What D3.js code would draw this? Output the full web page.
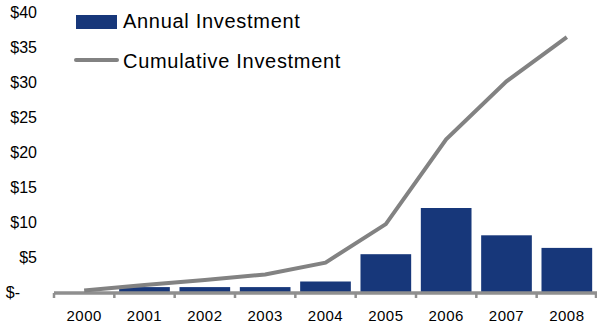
<!DOCTYPE html>
<html>
<head>
<meta charset="utf-8">
<script src="https://cdn.jsdelivr.net/npm/d3@7/dist/d3.min.js"></script>
<style>
  body { margin: 0; background: #fff; }
  text { font-family: "Liberation Sans", Arial, sans-serif; fill: #000; }
</style>
</head>
<body>
<div id="chartArea"></div>
<script>
var years = ['2000', '2001', '2002', '2003', '2004', '2005', '2006', '2007', '2008'];
var annual = [0, 0.7, 0.7, 0.7, 1.5, 5.4, 12.0, 8.1, 6.3];
var cumulative = [0.2, 1.0, 1.7, 2.5, 4.2, 9.7, 21.8, 30.1, 36.4];
var yTicks = [0, 5, 10, 15, 20, 25, 30, 35, 40];

var W = 597, H = 326;
var margin = {top: 12, right: 0, bottom: 34, left: 54};
var w = W - margin.left - margin.right,
    h = H - margin.top - margin.bottom;

var svg = d3.select('#chartArea').append('svg')
    .attr('width', W)
    .attr('height', H);

var g = svg.append('g')
    .attr('transform', 'translate(' + margin.left + ',' + margin.top + ')');

var xScale = d3.scaleBand()
    .domain(years)
    .range([0, w])
    .paddingInner(0.16)
    .paddingOuter(0.08);

var yScale = d3.scaleLinear()
    .domain([0, 40])
    .range([h, 0]);

// y labels (no axis line), zero is shown as "$-" further left
g.selectAll('.ylab')
    .data(yTicks)
    .enter()
    .append('text')
    .attr('class', 'ylab')
    .attr('x', function (d) { return d === 0 ? -34 : -17; })
    .attr('y', function (d) { return yScale(d); })
    .attr('dy', '0.35em')
    .attr('text-anchor', 'end')
    .style('font-size', '16px')
    .text(function (d) { return d === 0 ? '$-' : '$' + d; });

// bars
g.selectAll('rect.bar')
    .data(annual)
    .enter()
    .append('rect')
    .attr('class', 'bar')
    .attr('x', function (d, i) { return xScale(years[i]); })
    .attr('y', function (d) { return yScale(d); })
    .attr('width', xScale.bandwidth())
    .attr('height', function (d) { return h - yScale(d); })
    .attr('fill', '#17377a');

// x axis line with ticks at band edges
var step = xScale.step();
var axisCol = '#8f8f8f';
g.append('line')
    .attr('x1', 0).attr('x2', w)
    .attr('y1', h + 1).attr('y2', h + 1)
    .attr('stroke', axisCol)
    .attr('stroke-width', 3.5);

g.selectAll('.xtick')
    .data(d3.range(years.length + 1))
    .enter()
    .append('line')
    .attr('class', 'xtick')
    .attr('x1', function (i) { return Math.min(i * step, w - 1); })
    .attr('x2', function (i) { return Math.min(i * step, w - 1); })
    .attr('y1', h + 1)
    .attr('y2', h + 6)
    .attr('stroke', axisCol)
    .attr('stroke-width', 2.5);

g.selectAll('.xlab')
    .data(years)
    .enter()
    .append('text')
    .attr('class', 'xlab')
    .attr('x', function (d) { return xScale(d) + xScale.bandwidth() / 2; })
    .attr('y', h + 29)
    .attr('text-anchor', 'middle')
    .style('font-size', '15px')
    .style('letter-spacing', '0.5px')
    .text(function (d) { return d; });

// cumulative line
var line = d3.line()
    .x(function (d, i) { return xScale(years[i]) + xScale.bandwidth() / 2; })
    .y(function (d) { return yScale(d); });

g.append('path')
    .datum(cumulative)
    .attr('d', line)
    .attr('fill', 'none')
    .attr('stroke', '#828282')
    .attr('stroke-width', 4);

// legend
svg.append('rect')
    .attr('x', 76).attr('y', 15)
    .attr('width', 41).attr('height', 14)
    .attr('fill', '#17377a');
svg.append('text')
    .attr('x', 123).attr('y', 28)
    .style('font-size', '20px')
    .style('letter-spacing', '0.7px')
    .text('Annual Investment');

svg.append('line')
    .attr('x1', 76).attr('x2', 117)
    .attr('y1', 60).attr('y2', 60)
    .attr('stroke', '#828282')
    .attr('stroke-width', 4)
    .attr('stroke-linecap', 'round');
svg.append('text')
    .attr('x', 123).attr('y', 68)
    .style('font-size', '20px')
    .style('letter-spacing', '0.7px')
    .text('Cumulative Investment');
</script>
</body>
</html>
